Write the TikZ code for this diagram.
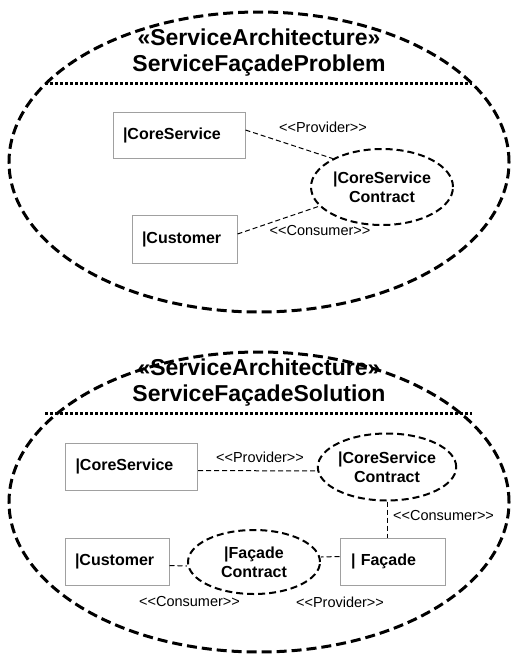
\documentclass[tikz,border=0pt]{standalone}
\usepackage{fontspec}
\setmainfont{Liberation Sans}
% a family without TeX ligatures, so that << and >> stay as typed
\newfontfamily\rolefont{Liberation Sans}
\usetikzlibrary{shapes.geometric}
\definecolor{boxgray}{RGB}{160,160,160}
\begin{document}
\begin{tikzpicture}[x=1pt,y=-1pt,
  frame/.style={draw, ellipse, line width=3pt, dash pattern=on 10pt off 5pt,
    minimum width=500pt, minimum height=300pt, inner sep=0pt},
  heading/.style={align=center, inner sep=0pt,
    font=\bfseries\fontsize{23}{26}\selectfont},
  divider/.style={line width=3pt, dash pattern=on 3pt off 2pt},
  part/.style={draw=boxgray, line width=1pt, inner xsep=10pt, inner ysep=0pt,
    align=left, font=\bfseries\fontsize{16}{19}\selectfont},
  contract/.style={draw, ellipse, line width=2pt, dash pattern=on 7pt off 4pt,
    inner sep=0pt, align=center, font=\bfseries\fontsize{16}{19}\selectfont},
  link/.style={line width=1pt, dash pattern=on 5pt off 3pt},
  role/.style={inner sep=0pt, font=\rolefont\fontsize{14.5}{17}\selectfont}]
\useasboundingbox (0,0) rectangle (511,656);

% ---------- problem ----------
\node[frame] (prob) at (259,162) {};
\node[heading] (probtitle) at (259,53) {«ServiceArchitecture»\\ServiceFaçadeProblem};
\coordinate (pdl) at (45,83);
\coordinate (pdr) at (472,83);
\draw[divider] (pdl) -- (pdr);

\node[part, text width=112pt, minimum height=46pt] (cs1) at (179,135) {|CoreService};
\node[part, text width=85pt, minimum height=48pt] (cu1) at (184.5,239) {|Customer};
\node[contract, minimum width=142pt, minimum height=76pt] (ct1) at (382,187) {|CoreService\\Contract};

\draw[link] ([yshift=5pt]cs1.east) -- (ct1.150);
\draw[link] ([yshift=5pt]cu1.east) -- (ct1.197);
\node[role] (prov1) at (323,127) {<<Provider>>};
\node[role] (cons1) at (320,231) {<<Consumer>>};

% ---------- solution ----------
\node[frame] (sol) at (259,502) {};
\node[heading] (soltitle) at (259,383) {«ServiceArchitecture»\\ServiceFaçadeSolution};
\coordinate (sdl) at (45,413);
\coordinate (sdr) at (472,413);
\draw[divider] (sdl) -- (sdr);

\node[part, text width=112pt, minimum height=47pt] (cs2) at (131.5,466.5) {|CoreService};
\node[part, text width=84pt, minimum height=47pt] (cu2) at (117,561.5) {|Customer};
\node[part, text width=83pt, inner xsep=11pt, minimum height=47pt] (fa) at (392.5,561.5) {| Façade};
\node[contract, minimum width=135pt, minimum height=67pt] (ct2) at (387,467) {|CoreService\\Contract};
\node[contract, minimum width=132pt, minimum height=64pt] (fc) at (254,562) {|Façade\\Contract};

\draw[link] ([yshift=-4pt]cs2.east) -- ([yshift=-4pt]ct2.west);
\draw[link] (ct2.south) -- (ct2.south |- fa.north);
\draw[link] ([yshift=-4pt]cu2.east) -- ([yshift=-4pt]fc.west);
\draw[link] ([yshift=5pt]fa.west) -- ([yshift=5pt]fc.east);

\node[role] (prov2) at (260,457) {<<Provider>>};
\node[role, anchor=west] (cons2) at (393,516) {<<Consumer>>};
\node[role] (cons3) at (189.5,602) {<<Consumer>>};
\node[role] (prov3) at (340,602) {<<Provider>>};
\end{tikzpicture}
\end{document}
